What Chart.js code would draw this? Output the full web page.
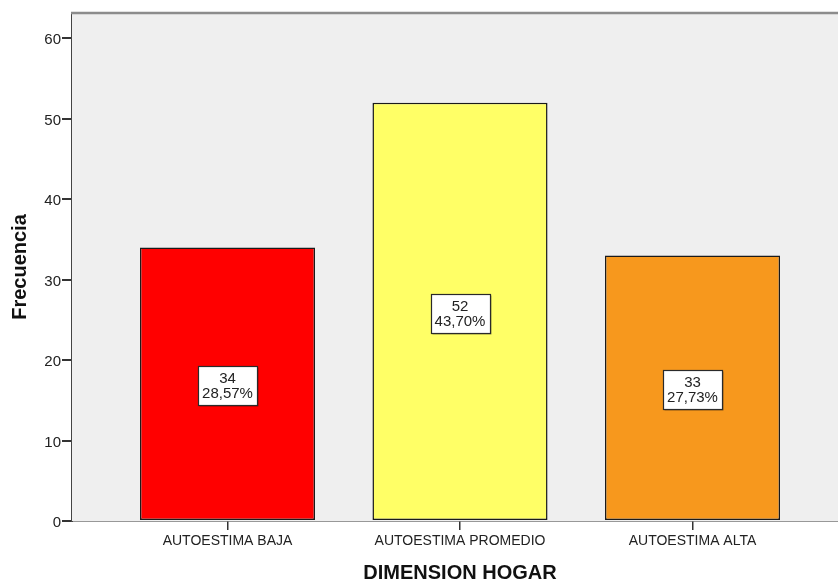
<!DOCTYPE html>
<html>
<head>
<meta charset="utf-8">
<script src="https://cdn.jsdelivr.net/npm/chart.js@4.4.1/dist/chart.umd.min.js"></script>
<style>
  html, body { margin: 0; padding: 0; background: #ffffff; overflow: hidden; }
  #wrap { width: 848px; height: 583px; }
</style>
</head>
<body>
<div id="wrap"><canvas id="chart" width="848" height="583"></canvas></div>
<script>
// Frequencies of the "DIMENSION HOGAR" self-esteem levels
const categories = ['AUTOESTIMA BAJA', 'AUTOESTIMA PROMEDIO', 'AUTOESTIMA ALTA'];
const counts = [34, 52, 33];
const barColors = ['#FF0000', '#FFFF66', '#F7981D'];
const yTicks = [0, 10, 20, 30, 40, 50, 60];
const xTitle = 'DIMENSION HOGAR';
const yTitle = 'Frecuencia';

const FONT = "'Liberation Sans', Arial, sans-serif";
const total = counts.reduce((a, b) => a + b, 0);
const pctText = v => (v / total * 100).toFixed(2).replace('.', ',') + '%';

// grey plot background and the light top frame line
const plotFrame = {
  id: 'plotFrame',
  beforeDatasetsDraw(chart) {
    const { ctx, chartArea: a } = chart;
    ctx.save();
    ctx.fillStyle = '#EFEFEF';
    ctx.fillRect(a.left, a.top, a.right - a.left, a.bottom - a.top);
    ctx.strokeStyle = '#8C8C8C';
    ctx.lineWidth = 2.5;
    ctx.beginPath();
    ctx.moveTo(a.left - 1, a.top);
    ctx.lineTo(a.right, a.top);
    ctx.stroke();
    ctx.restore();
  }
};

// white boxes with count and percentage in the middle of each bar
const valueBoxes = {
  id: 'valueBoxes',
  afterDatasetsDraw(chart) {
    const { ctx } = chart;
    const meta = chart.getDatasetMeta(0);
    ctx.save();
    ctx.font = '15px ' + FONT;
    ctx.textAlign = 'center';
    ctx.textBaseline = 'middle';
    meta.data.forEach((bar, i) => {
      const l1 = String(counts[i]);
      const l2 = pctText(counts[i]);
      const w = Math.round(Math.max(ctx.measureText(l1).width, ctx.measureText(l2).width) + 8);
      const h = 39;
      const cx = bar.x;
      const cy = (bar.y + bar.base) / 2 + 2;
      const x0 = Math.round(cx - w / 2) + 0.5;
      const y0 = Math.round(cy - h / 2) + 0.5;
      ctx.fillStyle = 'rgba(0,0,0,0.35)';
      ctx.fillRect(x0 + 1, y0 + 1, w, h);
      ctx.fillStyle = '#FFFFFF';
      ctx.fillRect(x0, y0, w, h);
      ctx.strokeStyle = '#2A2A2A';
      ctx.lineWidth = 1.2;
      ctx.strokeRect(x0, y0, w, h);
      ctx.fillStyle = '#222222';
      ctx.fillText(l1, cx, y0 + 12);
      ctx.fillText(l2, cx, y0 + 27);
    });
    ctx.restore();
  }
};

new Chart(document.getElementById('chart'), {
  type: 'bar',
  data: {
    datasets: [{
      data: counts.map((v, i) => ({ x: i, y: v })),
      backgroundColor: barColors,
      borderColor: '#1A1A1A',
      borderWidth: 1.5,
      borderSkipped: false,
      barPercentage: 0.753,
      categoryPercentage: 1
    }]
  },
  options: {
    responsive: false,
    animation: false,
    devicePixelRatio: 1,
    layout: { padding: { top: 13, right: 0, bottom: 0, left: 0 } },
    plugins: { legend: { display: false }, tooltip: { enabled: false } },
    scales: {
      x: {
        type: 'linear',
        offset: false,
        min: -0.6688,
        max: 2.6688,
        afterFit(scale) { scale.height = 62; },
        afterBuildTicks(scale) { scale.ticks = categories.map((_, i) => ({ value: i })); },
        grid: { offset: false, drawOnChartArea: false, drawTicks: true, tickLength: 9, color: '#333333', lineWidth: 1.5 },
        border: { display: true, color: '#333333', width: 1.5 },
        ticks: {
          autoSkip: false,
          maxRotation: 0,
          padding: 3,
          color: '#222222',
          font: { family: FONT, size: 14 },
          callback: v => categories[v]
        },
        title: {
          display: true,
          text: xTitle,
          color: '#111111',
          font: { family: FONT, size: 20, weight: 'bold', lineHeight: 1 },
          padding: { top: 0, bottom: 0 }
        }
      },
      y: {
        min: 0,
        max: 63.14,
        afterFit(scale) { scale.width = 72; },
        afterBuildTicks(scale) { scale.ticks = yTicks.map(v => ({ value: v })); },
        grid: { drawOnChartArea: false, drawTicks: true, tickLength: 10, color: '#333333', lineWidth: 2 },
        border: { display: true, color: '#444444', width: 2 },
        ticks: {
          padding: 1,
          labelOffset: 2,
          color: '#222222',
          font: { family: FONT, size: 15 }
        },
        title: {
          display: true,
          text: yTitle,
          color: '#111111',
          font: { family: FONT, size: 20, weight: 'bold', lineHeight: 1 },
          padding: { top: 10, bottom: 0 }
        }
      }
    }
  },
  plugins: [plotFrame, valueBoxes]
});
</script>
</body>
</html>
